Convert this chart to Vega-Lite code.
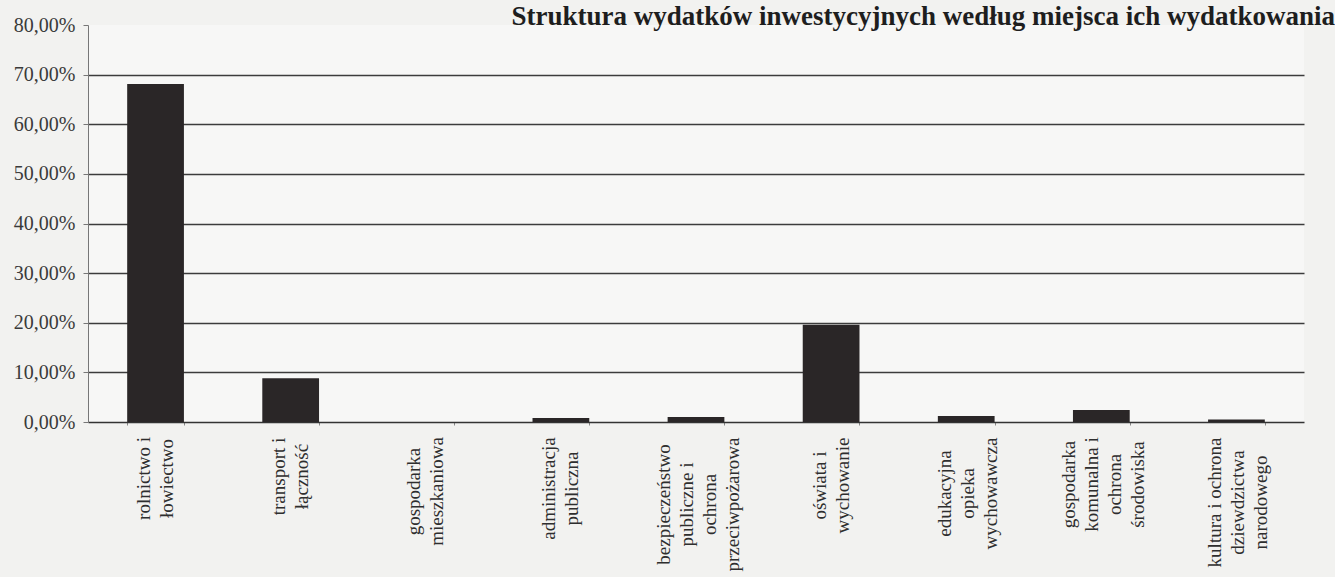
{
  "$schema": "https://vega.github.io/schema/vega-lite/v6.json",
  "width": 1216,
  "height": 397,
  "autosize": {"type": "none"},
  "padding": {"left": 88, "top": 25, "right": 31, "bottom": 155},
  "background": "#f2f2f0",
  "title": {
    "text": "Struktura wydatków inwestycyjnych według miejsca ich wydatkowania",
    "anchor": "end",
    "dx": 31,
    "offset": -16,
    "font": "Liberation Serif",
    "fontSize": 27,
    "fontWeight": "bold",
    "color": "#1e1e1e"
  },
  "config": {
    "view": {"stroke": null, "fill": "#f7f7f6"}
  },
  "data": {
    "values": [
      {"kategoria": "rolnictwo i|łowiectwo", "udzial": 0.681},
      {"kategoria": "transport i|łączność", "udzial": 0.088},
      {"kategoria": "gospodarka|mieszkaniowa", "udzial": 0.0},
      {"kategoria": "administracja|publiczna", "udzial": 0.008},
      {"kategoria": "bezpieczeństwo|publiczne i|ochrona|przeciwpożarowa", "udzial": 0.010},
      {"kategoria": "oświata i|wychowanie", "udzial": 0.196},
      {"kategoria": "edukacyjna|opieka|wychowawcza", "udzial": 0.012},
      {"kategoria": "gospodarka|komunalna i|ochrona|środowiska", "udzial": 0.024},
      {"kategoria": "kultura i ochrona|dziewdzictwa|narodowego", "udzial": 0.005}
    ]
  },
  "mark": {"type": "bar", "color": "#2a2627"},
  "encoding": {
    "x": {
      "field": "kategoria",
      "type": "nominal",
      "sort": null,
      "scale": {"paddingInner": 0.58, "paddingOuter": 0.29},
      "axis": {
        "title": null,
        "labelExpr": "split(datum.label, '|')",
        "labelAngle": -90,
        "labelAlign": "center",
        "labelBaseline": "middle",
        "labelFont": "Liberation Serif",
        "labelFontSize": 19,
        "labelLineHeight": 23,
        "labelColor": "#2e2e2e",
        "labelLimit": 0,
        "labelOffset": {
          "condition": [
            {"test": "length(split(datum.value, '|')) == 4", "value": -33},
            {"test": "length(split(datum.value, '|')) == 3", "value": -22}
          ],
          "value": -12
        },
        "labelPadding": {
          "condition": [
            {"test": "datum.value == 'rolnictwo i|łowiectwo'", "value": 53},
            {"test": "datum.value == 'transport i|łączność'", "value": 51},
            {"test": "datum.value == 'gospodarka|mieszkaniowa'", "value": 66},
            {"test": "datum.value == 'administracja|publiczna'", "value": 63},
            {"test": "datum.value == 'bezpieczeństwo|publiczne i|ochrona|przeciwpożarowa'", "value": 79},
            {"test": "datum.value == 'oświata i|wychowanie'", "value": 60},
            {"test": "datum.value == 'edukacyjna|opieka|wychowawcza'", "value": 68},
            {"test": "datum.value == 'gospodarka|komunalna i|ochrona|środowiska'", "value": 59},
            {"test": "datum.value == 'kultura i ochrona|dziewdzictwa|narodowego'", "value": 77}
          ],
          "value": 55
        },
        "tickBand": "extent",
        "tickSize": 3,
        "tickColor": "#888888",
        "domainColor": "#333333",
        "domainWidth": 1.5
      }
    },
    "y": {
      "field": "udzial",
      "type": "quantitative",
      "scale": {"domain": [0, 0.8], "nice": false},
      "axis": {
        "title": null,
        "values": [0, 0.1, 0.2, 0.3, 0.4, 0.5, 0.6, 0.7, 0.8],
        "labelExpr": "replace(format(datum.value, '.2%'), '.', ',')",
        "labelFont": "Liberation Serif",
        "labelFontSize": 20,
        "labelColor": "#3a3a3a",
        "labelPadding": 8,
        "tickSize": 5,
        "tickColor": "#777777",
        "domainColor": "#777777",
        "domainWidth": 1,
        "grid": true,
        "gridColor": {
          "condition": {"test": "datum.value >= 0.79 || datum.value <= 0.001", "value": "transparent"},
          "value": "#3c3c3c"
        },
        "gridWidth": 1.3
      }
    }
  }
}
